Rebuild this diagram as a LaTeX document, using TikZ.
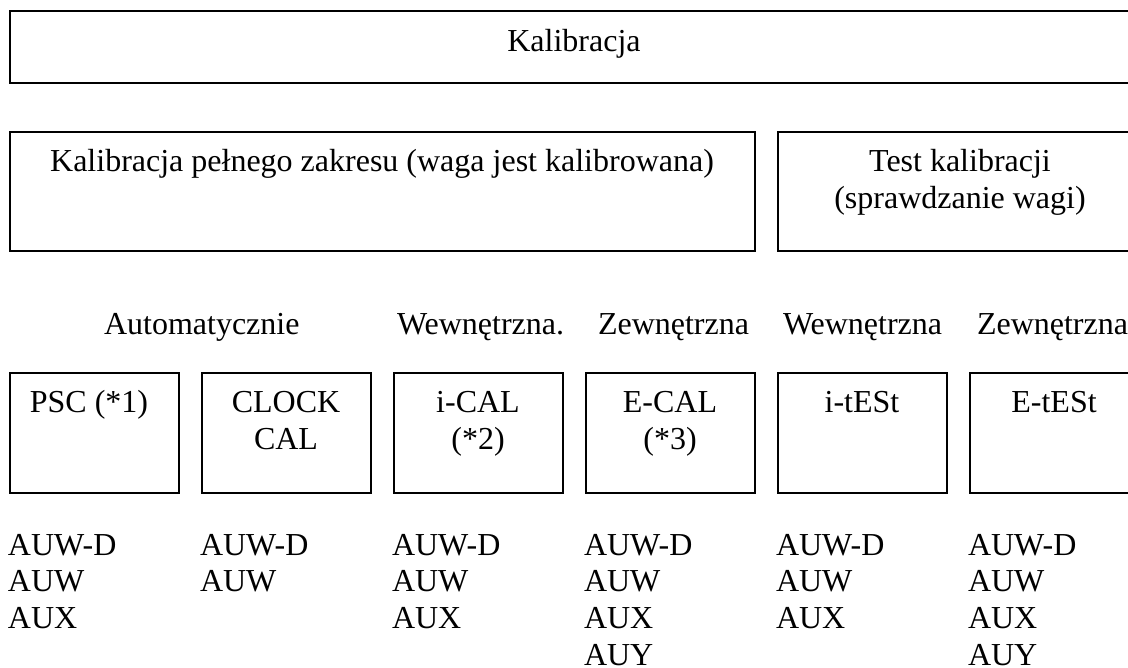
\documentclass[tikz,border=0pt]{standalone}
\usepackage{fontspec}
\setmainfont{Liberation Serif}
\begin{document}
\begin{tikzpicture}[x=1pt,y=-1pt,
  every node/.style={inner sep=0pt, outer sep=0pt, font=\fontsize{32}{36.8}\selectfont},
  frame/.style={draw, line width=1.4pt, anchor=north west},
  txt/.style={anchor=base, align=center},
  lbl/.style={anchor=base west},
  lst/.style={anchor=base west, align=left}]
\useasboundingbox (0,0) rectangle (1128,668);
\clip (0,0) rectangle (1128,668);
% top
\node[frame, minimum width=1130pt, minimum height=72pt] (top) at (10,11) {};
\node[txt] (toptxt) at (574,52) {Kalibracja};
% row 2
\node[frame, minimum width=745pt, minimum height=119pt] (full) at (10,132) {};
\node[txt] (fulltxt) at (382,172) {Kalibracja pełnego zakresu (waga jest kalibrowana)};
\node[frame, minimum width=364pt, minimum height=119pt] (test) at (778,132) {};
\node[txt] (testtxt) at (960,208.8) {Test kalibracji\\(sprawdzanie wagi)};
% labels
\node[lbl] (l1) at (104,335) {Automatycznie};
\node[lbl] (l2) at (397,335) {Wewnętrzna.};
\node[lbl] (l3) at (598,335) {Zewnętrzna};
\node[lbl] (l4) at (783,335) {Wewnętrzna};
\node[lbl] (l5) at (977,335) {Zewnętrzna};
% row 3 boxes
\foreach \i/\nm in {0/psc,1/clock,2/ical,3/ecal,4/itest,5/etest}{
  \node[frame, minimum width=169pt, minimum height=120pt] (\nm) at (10+192*\i,373) {};
}
\node[txt] (psctxt) at (89,413) {PSC (*1)};
\node[txt] (clocktxt) at (286,449.8) {CLOCK\\CAL};
\node[txt] (icaltxt) at (478,449.8) {i-CAL\\(*2)};
\node[txt] (ecaltxt) at (670,449.8) {E-CAL\\(*3)};
\node[txt] (itesttxt) at (862,413) {i-tESt};
\node[txt] (etesttxt) at (1054,413) {E-tESt};
% lists (base = last line)
\node[lst] (a1) at (8,628.6) {AUW-D\\AUW\\AUX};
\node[lst] (a2) at (200,591.8) {AUW-D\\AUW};
\node[lst] (a3) at (392,628.6) {AUW-D\\AUW\\AUX};
\node[lst] (a4) at (584,665.4) {AUW-D\\AUW\\AUX\\AUY};
\node[lst] (a5) at (776,628.6) {AUW-D\\AUW\\AUX};
\node[lst] (a6) at (968,665.4) {AUW-D\\AUW\\AUX\\AUY};
\end{tikzpicture}
\end{document}
